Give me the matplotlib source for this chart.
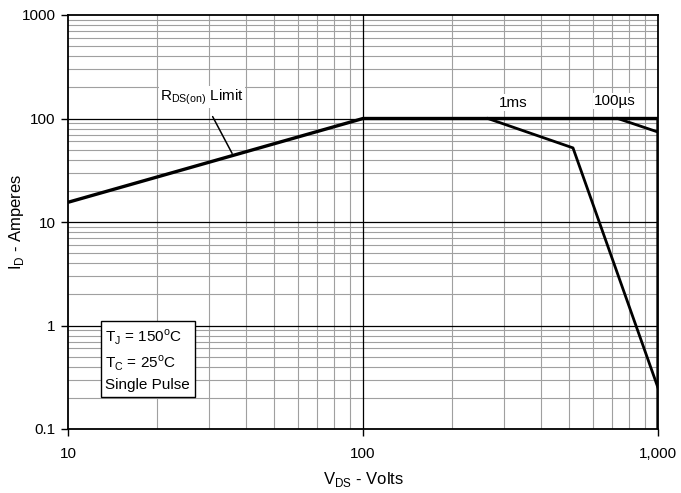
import matplotlib
matplotlib.use('Agg')
import matplotlib.pyplot as plt
from matplotlib.ticker import FixedLocator, LogLocator, NullFormatter

plt.rcParams['font.family'] = ['Liberation Sans', 'DejaVu Sans']

# limite RDS(on) + plateau + bord 1000 V
rds_v = [10, 100, 1000, 1000]
rds_i = [15.5, 100, 100, 0.1]

# impulsion 1 ms
ms1_v = [265, 515, 1000]
ms1_i = [100, 52, 0.25]

# impulsion 100 us
us100_v = [730, 1000]
us100_i = [100, 74]

x_ticks = [10, 100, 1000]
x_labels = ['10', '100', '1,000']
y_ticks = [0.1, 1, 10, 100, 1000]
y_labels = ['0.1', '1', '10', '100', '1000']

fig = plt.figure(figsize=(6.81, 4.93), dpi=100)
ax = fig.add_axes([68/681, 64/493, 590/681, 414/493])
ax.set_xscale('log')
ax.set_yscale('log')
ax.set_xlim(10, 1000)
ax.set_ylim(0.1, 1000)

# grille secondaire grise, grille principale noire par-dessus
ax.grid(which='minor', color='#a0a0a0', lw=0.8, zorder=0)
for v in x_ticks[1:-1]:
    ax.axvline(v, color='black', lw=0.9, zorder=1)
for v in y_ticks[1:-1]:
    ax.axhline(v, color='black', lw=0.9, zorder=1)
ax.set_axisbelow(True)

ax.plot(rds_v, rds_i, color='black', lw=2.4, solid_capstyle='butt', zorder=3)
ax.plot(ms1_v, ms1_i, color='black', lw=2.0, zorder=3)
ax.plot(us100_v, us100_i, color='black', lw=2.0, zorder=3)

ax.xaxis.set_major_locator(FixedLocator(x_ticks))
ax.set_xticklabels(x_labels)
ax.yaxis.set_major_locator(FixedLocator(y_ticks))
ax.set_yticklabels(y_labels)
ax.xaxis.set_minor_locator(LogLocator(base=10, subs=range(2, 10)))
ax.yaxis.set_minor_locator(LogLocator(base=10, subs=range(2, 10)))
ax.xaxis.set_minor_formatter(NullFormatter())
ax.yaxis.set_minor_formatter(NullFormatter())
ax.tick_params(which='major', direction='out', length=5, labelsize=11, width=1)
ax.tick_params(which='minor', length=0)
ax.tick_params(axis='x', pad=8)
ax.tick_params(axis='y', pad=4)
for s in ax.spines.values():
    s.set_linewidth(1.3)

ax.set_xlabel('V$_{\\mathregular{DS}}$ - Volts', fontsize=12)
ax.xaxis.set_label_coords(0.5, -0.10)
ax.set_ylabel('I$_{\\mathregular{D}}$ - Amperes', fontsize=12)
ax.yaxis.set_label_coords(-0.072, 0.5)

ax.annotate('R$_{\\mathregular{DS(on)}}$ Limit', xy=(36, 46), xytext=(28.5, 162),
            ha='center', va='center', fontsize=11,
            bbox=dict(fc='white', ec='none', pad=1),
            arrowprops=dict(arrowstyle='-', color='black', lw=1.1, shrinkA=7, shrinkB=0))
ax.text(322, 142, '1ms', ha='center', va='center', fontsize=11,
        bbox=dict(fc='white', ec='none', pad=1))
ax.text(714, 148, '100µs', ha='center', va='center', fontsize=11,
        bbox=dict(fc='white', ec='none', pad=1))

ax.text(13.4, 0.95,
        'T$_{\\mathregular{J}}$ = 150$^{\\mathregular{o}}$C\n'
        'T$_{\\mathregular{C}}$ = 25$^{\\mathregular{o}}$C\n'
        'Single Pulse',
        ha='left', va='top', fontsize=11, linespacing=1.45,
        bbox=dict(fc='white', ec='black', lw=1, boxstyle='square,pad=0.3'),
        zorder=4)

fig.savefig('out.png', dpi=100)
